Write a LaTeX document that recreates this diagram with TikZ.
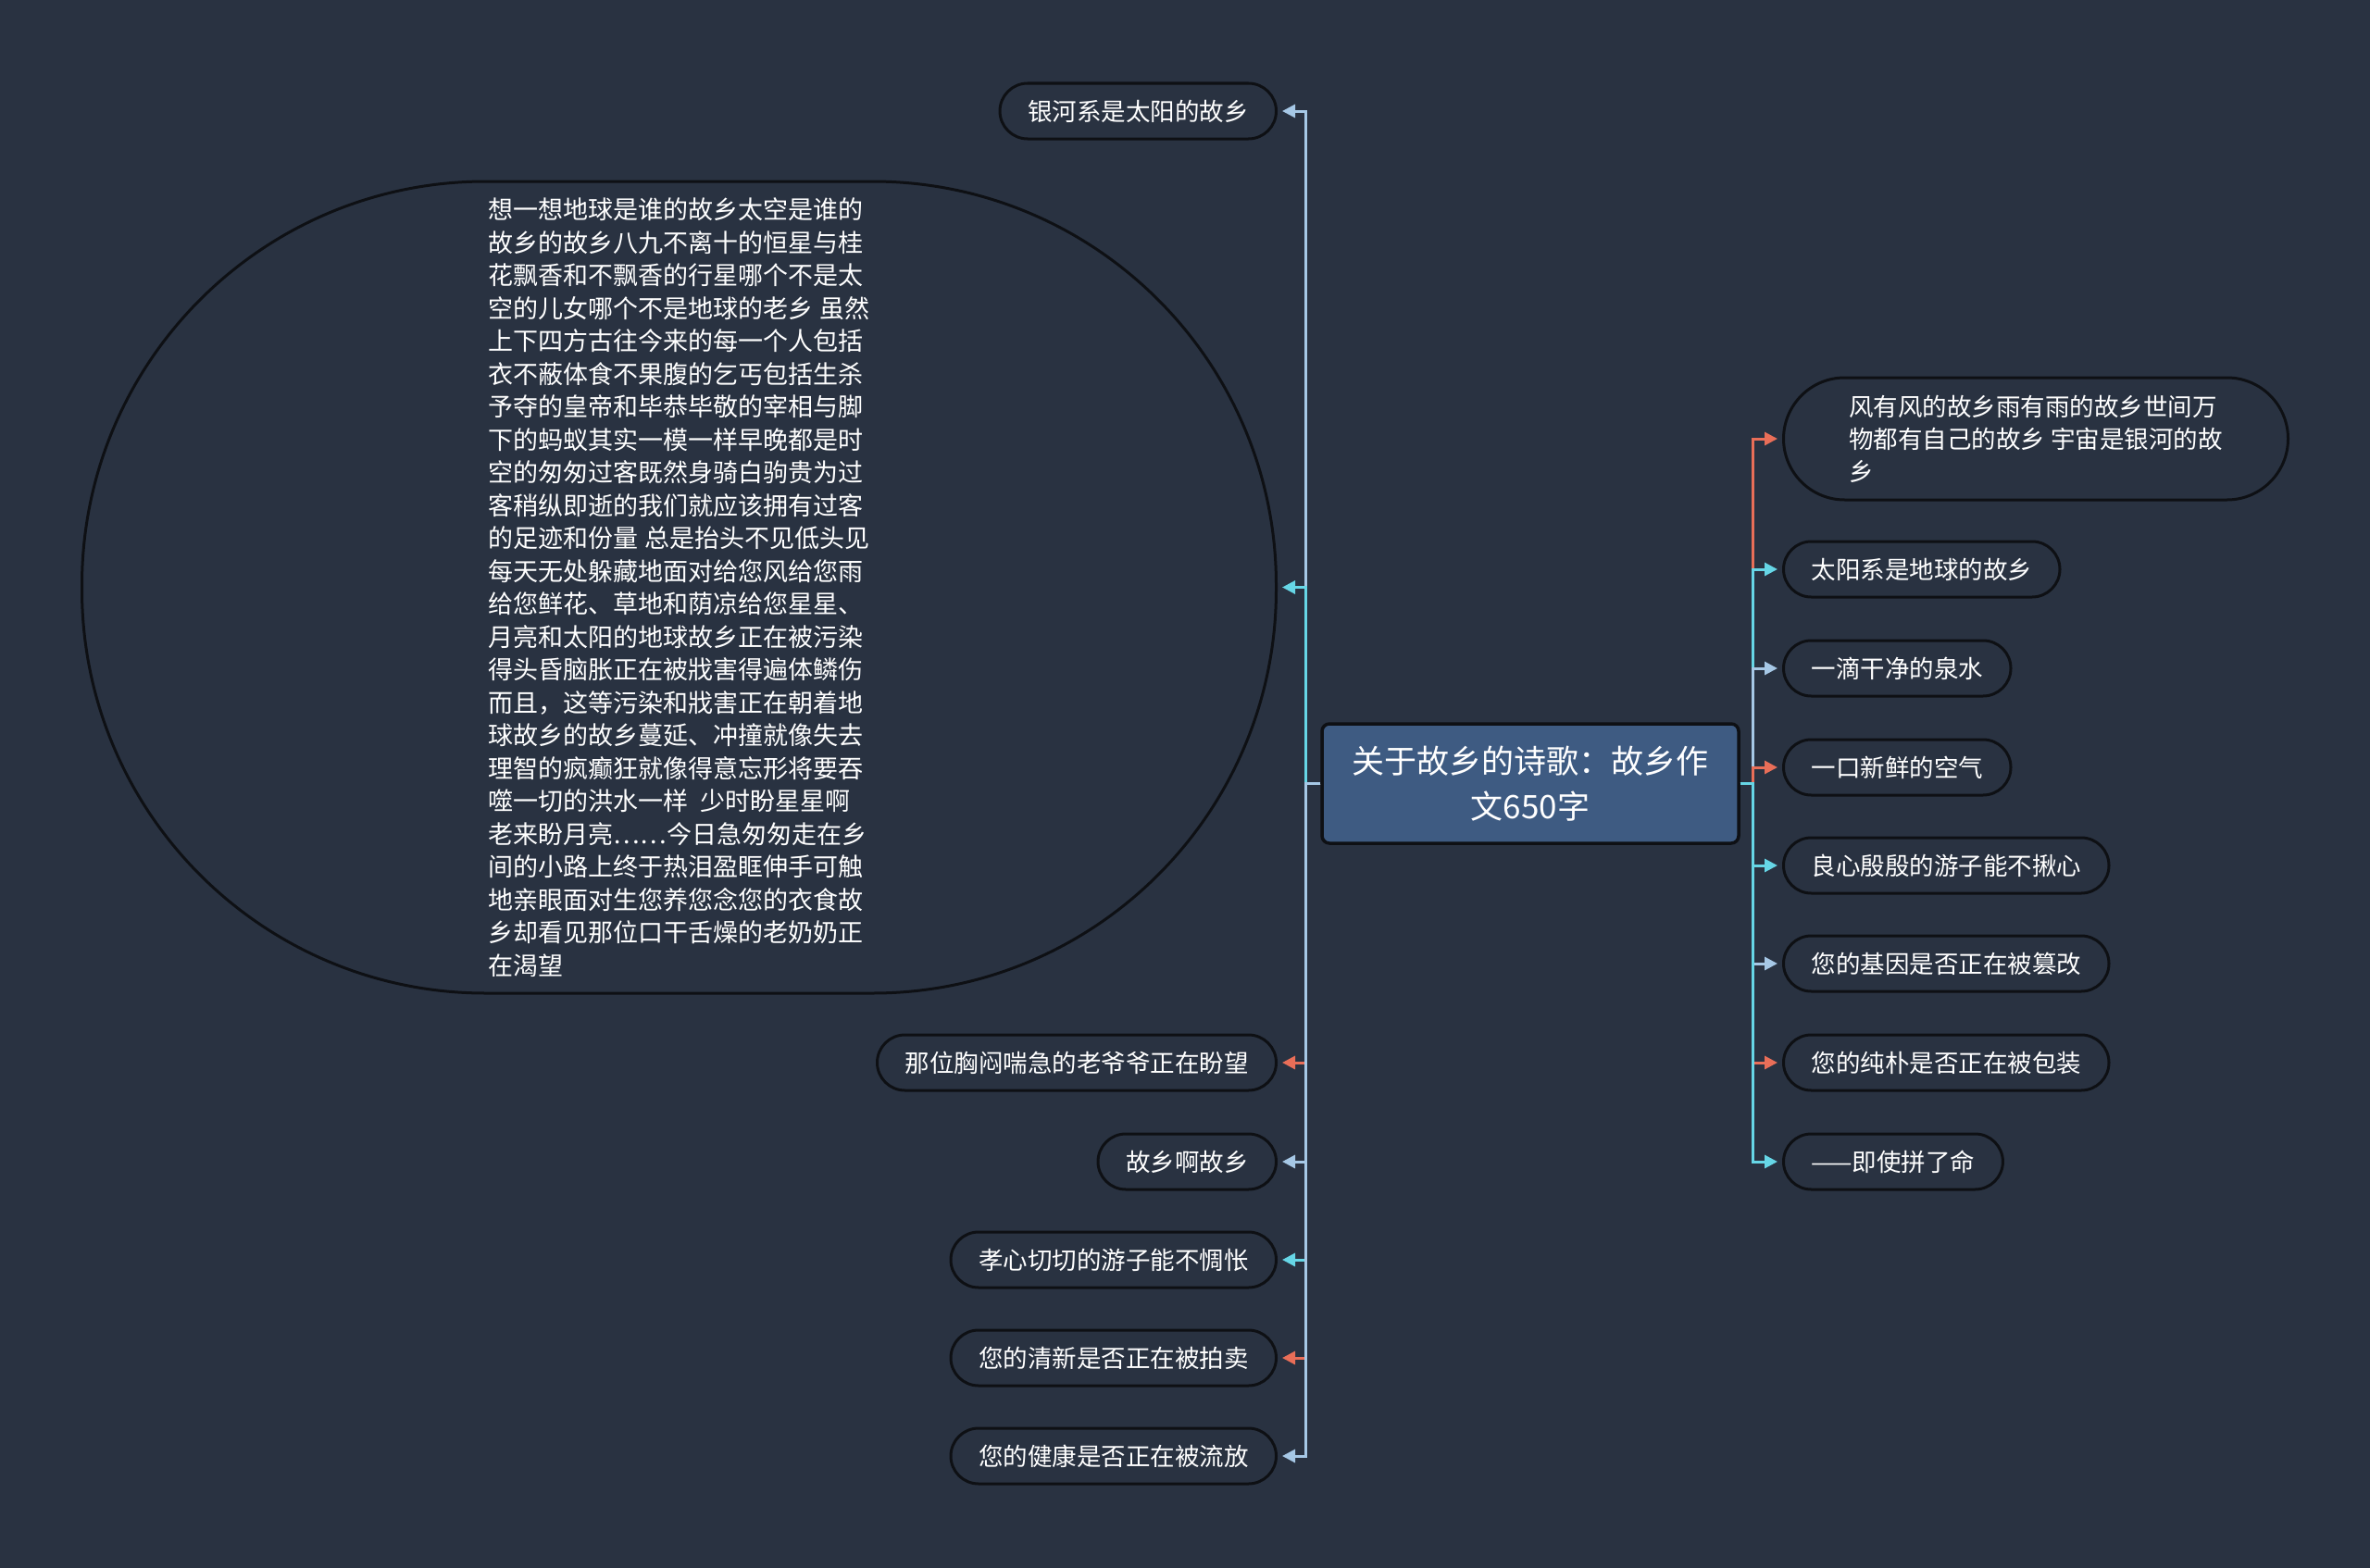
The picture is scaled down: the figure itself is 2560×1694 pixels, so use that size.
\documentclass[tikz,border=0pt]{standalone}
\usepackage{fontspec}
\newfontfamily\cjk{Noto Sans CJK SC}
\usetikzlibrary{arrows.meta}
\definecolor{bg}{RGB}{41,50,65}
\definecolor{nodeborder}{RGB}{14,16,20}
\definecolor{rootfill}{RGB}{62,91,130}
\definecolor{cred}{RGB}{233,110,88}
\definecolor{clb}{RGB}{166,200,230}
\definecolor{ccy}{RGB}{102,214,230}
\tikzset{
  leaf/.style={draw=nodeborder, line width=3pt, fill=bg, rounded corners=30pt,
    minimum height=60pt, inner xsep=30pt, inner ysep=0pt, text=white,
    font=\cjk\fontsize{26.5}{35}\selectfont},
  conn/.style={line width=3pt, shorten >=5pt, -{Triangle[length=14pt,width=14pt]}},
  redc/.style={conn, draw=cred},
  lbc/.style={conn, draw=clb},
  cyc/.style={conn, draw=ccy}
}
\begin{document}
\begin{tikzpicture}[x=1pt,y=-1pt]
\useasboundingbox[fill=bg] (0,0) rectangle (2560,1694);
% root
\node[draw=nodeborder, line width=3.5pt, fill=rootfill, rounded corners=8pt,
  minimum width=450pt, minimum height=129pt, text=white, align=center,
  font=\cjk\fontsize{35}{49}\selectfont] (root) at (1653,846.5)
  {关于故乡的诗歌：故乡作\\文650字};
\coordinate (TL) at (1410,846.5);
\coordinate (TR) at (1893,846.5);
% left nodes
\node[leaf, anchor=east] (l1) at (1380,120) {银河系是太阳的故乡};
\node[draw=nodeborder, line width=3pt, fill=bg, rounded corners=436pt,
  minimum width=1290pt, minimum height=877pt, inner sep=0pt, text=white, align=left,
  font=\cjk\fontsize{27}{35.5}\selectfont, anchor=east] (poem) at (1380,634.5)
  {想一想地球是谁的故乡太空是谁的\\
故乡的故乡八九不离十的恒星与桂\\
花飘香和不飘香的行星哪个不是太\\
空的儿女哪个不是地球的老乡 虽然\\
上下四方古往今来的每一个人包括\\
衣不蔽体食不果腹的乞丐包括生杀\\
予夺的皇帝和毕恭毕敬的宰相与脚\\
下的蚂蚁其实一模一样早晚都是时\\
空的匆匆过客既然身骑白驹贵为过\\
客稍纵即逝的我们就应该拥有过客\\
的足迹和份量 总是抬头不见低头见\\
每天无处躲藏地面对给您风给您雨\\
给您鲜花、草地和荫凉给您星星、\\
月亮和太阳的地球故乡正在被污染\\
得头昏脑胀正在被戕害得遍体鳞伤\\
而且，这等污染和戕害正在朝着地\\
球故乡的故乡蔓延、冲撞就像失去\\
理智的疯癫狂就像得意忘形将要吞\\
噬一切的洪水一样\ \ 少时盼星星啊\\
老来盼月亮……今日急匆匆走在乡\\
间的小路上终于热泪盈眶伸手可触\\
地亲眼面对生您养您念您的衣食故\\
乡却看见那位口干舌燥的老奶奶正\\
在渴望};
\node[leaf, anchor=east] (l3) at (1380,1148) {那位胸闷喘急的老爷爷正在盼望};
\node[leaf, anchor=east] (l4) at (1380,1255) {故乡啊故乡};
\node[leaf, anchor=east] (l5) at (1380,1361) {孝心切切的游子能不惆怅};
\node[leaf, anchor=east] (l6) at (1380,1467) {您的清新是否正在被拍卖};
\node[leaf, anchor=east] (l7) at (1380,1573) {您的健康是否正在被流放};
% right nodes
\node[leaf, anchor=west, minimum height=132pt, minimum width=545pt, rounded corners=66pt,
  inner xsep=60pt, align=left] (r1) at (1925,474)
  {风有风的故乡雨有雨的故乡世间万\\物都有自己的故乡 宇宙是银河的故\\乡};
\node[leaf, anchor=west] (r2) at (1925,615) {太阳系是地球的故乡};
\node[leaf, anchor=west] (r3) at (1925,722) {一滴干净的泉水};
\node[leaf, anchor=west] (r4) at (1925,829) {一口新鲜的空气};
\node[leaf, anchor=west] (r5) at (1925,935) {良心殷殷的游子能不揪心};
\node[leaf, anchor=west] (r6) at (1925,1041) {您的基因是否正在被篡改};
\node[leaf, anchor=west] (r7) at (1925,1148) {您的纯朴是否正在被包装};
\node[leaf, anchor=west] (r8) at (1925,1255) {——即使拼了命};
% left connectors (drawn top to bottom)
\draw[lbc] (root.west) -- (TL) |- (l1.east);
\draw[cyc] (root.west) -- (TL) |- (poem.east);
\draw[redc] (root.west) -- (TL) |- (l3.east);
\draw[lbc] (root.west) -- (TL) |- (l4.east);
\draw[cyc] (root.west) -- (TL) |- (l5.east);
\draw[redc] (root.west) -- (TL) |- (l6.east);
\draw[lbc] (root.west) -- (TL) |- (l7.east);
% right connectors
\draw[redc] (root.east) -- (TR) |- (r1.west);
\draw[cyc] (root.east) -- (TR) |- (r2.west);
\draw[lbc] (root.east) -- (TR) |- (r3.west);
\draw[redc] (root.east) -- (TR) |- (r4.west);
\draw[cyc] (root.east) -- (TR) |- (r5.west);
\draw[lbc] (root.east) -- (TR) |- (r6.west);
\draw[redc] (root.east) -- (TR) |- (r7.west);
\draw[cyc] (root.east) -- (TR) |- (r8.west);
\end{tikzpicture}
\end{document}
